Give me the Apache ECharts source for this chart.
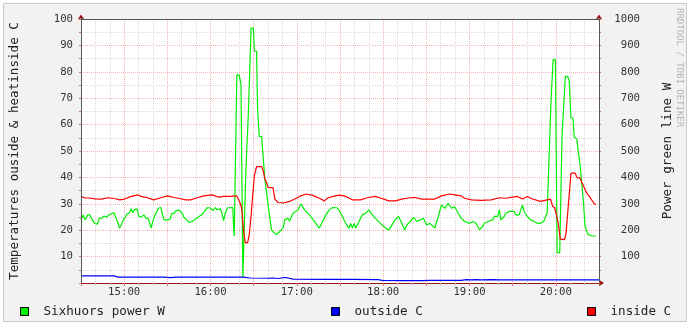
<!DOCTYPE html>
<html>
<head>
<meta charset="utf-8">
<script src="https://cdn.jsdelivr.net/npm/echarts@6/dist/echarts.min.js"></script>
<style>html,body{margin:0;padding:0;background:#fff}#c{width:690px;height:324px}</style>
</head>
<body>
<div id="c"></div>
<script>
// time values are minutes after 14:00
const powerMin = [30.0,31.6,32.8,34.6,36.2,37.8,39.6,41.5,42.6,44.2,46.0,47.7,49.3,50.6,52.9,54.1,55.3,56.8,58.0,59.1,60.8,62.1,63.7,64.9,66.0,67.2,69.0,70.1,71.8,73.6,75.2,76.8,78.7,80.5,82.1,83.7,85.5,86.6,87.8,90.1,91.9,93.1,94.7,95.9,98.1,99.3,100.4,101.6,103.4,105.0,107.3,109.6,111.9,113.8,115.3,116.5,118.1,120.0,121.7,123.4,124.5,126.8,127.9,129.1,130.3,131.9,133.7,135.5,136.0,136.5,137.6,138.3,139.9,141.2,142.5,143.6,144.6,146.3,148.2,149.8,150.5,152.0,152.7,153.9,155.5,157.8,158.9,160.1,161.3,162.4,165.8,168.1,170.4,171.6,173.8,175.0,177.3,180.7,183.0,185.3,188.8,192.2,195.7,197.9,200.2,202.6,204.8,208.3,210.5,214.0,216.3,217.4,218.6,219.8,220.9,223.2,225.5,227.8,230.1,232.4,234.6,238.1,241.5,243.9,246.1,248.4,250.7,253.0,254.9,256.5,258.8,261.1,263.3,265.6,268.0,270.2,272.5,275.9,278.3,280.5,282.8,285.2,287.4,289.7,292.0,294.3,296.6,300.0,302.3,304.6,306.9,309.2,310.3,312.7,316.1,317.2,319.6,320.7,321.8,324.1,325.3,327.6,331.0,332.2,334.5,336.8,337.9,340.2,342.5,344.8,347.1,349.4,351.6,354.0,355.1,356.7,358.1,359.7,360.9,362.7,364.3,365.4,366.6,368.2,369.3,370.5,371.9,372.8,374.6,375.7,376.9,378.1,379.2,380.3,382.2,384.9,387.9];
const powerW = [239,258,239,258,258,239,226,223,245,245,254,249,258,264,266,262,233,208,221,236,250,262,266,281,266,278,281,253,250,258,245,245,208,245,264,283,286,258,239,239,242,264,264,273,277,281,263,248,239,229,233,242,252,258,267,277,286,283,274,286,278,281,266,236,266,285,285,286,220,178,178,788,788,751,20,20,430,640,966,966,878,878,663,555,555,394,390,292,290,201,182,195,208,239,245,235,264,277,299,277,258,233,208,233,258,277,286,284,264,226,208,226,208,226,208,233,258,264,277,258,245,226,208,201,220,239,252,226,201,220,233,249,233,239,245,220,226,208,252,296,283,302,283,289,266,245,233,226,233,226,201,215,226,233,239,252,252,277,239,252,264,271,271,258,258,296,271,252,239,233,226,226,233,267,444,694,846,846,115,115,555,555,783,783,764,625,625,553,545,492,444,440,305,216,185,178,178];

const insideMin = [30.0,32.8,36.2,39.6,44.2,48.8,53.4,56.8,60.3,64.9,69.4,71.8,76.3,80.5,85.5,90.1,94.7,99.3,102.8,106.2,109.6,115.3,121.1,125.7,129.1,133.7,138.3,139.4,140.6,141.7,142.9,144.1,145.8,146.8,148.2,149.3,150.5,152.0,155.5,156.6,157.8,158.9,160.1,163.5,164.7,167.0,170.4,175.0,178.5,181.9,186.5,191.1,196.8,199.1,201.4,206.0,209.4,214.0,218.6,224.3,228.9,230.1,234.6,238.1,243.9,248.4,253.0,257.6,262.2,266.8,275.9,280.5,286.3,289.7,294.3,296.6,301.2,308.1,315.0,320.7,325.3,329.9,333.3,336.8,340.2,343.7,349.4,354.0,356.3,357.8,359.2,361.6,363.1,366.1,367.1,368.2,370.5,373.5,374.6,376.9,378.1,379.2,381.5,383.3,384.9,386.5,387.9];
const insideC = [32.8,32.2,32.2,31.9,31.8,32.3,32.0,31.5,31.8,32.8,33.4,32.8,32.3,31.5,32.3,33.0,32.4,31.9,31.5,31.5,32.1,33.0,33.4,32.5,32.8,32.8,33.0,33.0,30.2,28.3,20.4,15.3,15.3,17.8,25.4,33.0,40.6,44.1,44.1,42.5,39.4,38.1,36.2,36.0,31.8,30.5,30.3,30.9,31.8,32.8,33.7,33.2,31.8,31.1,32.2,32.9,33.3,32.8,31.5,31.5,32.3,33.0,32.8,32.2,31.1,31.1,31.8,32.2,32.4,31.8,31.8,33.0,33.7,33.4,33.0,32.1,31.5,31.3,31.5,32.3,32.1,32.5,32.8,31.8,32.8,31.8,30.9,31.5,31.8,29.0,28.6,22.9,16.6,16.4,18.8,19.0,41.6,41.6,40.0,39.7,38.1,37.5,34.0,32.8,31.5,30.2,29.6];

const outsideMin = [30.0,43.1,53.4,54.8,57.5,60.3,87.8,91.9,96.1,101.6,129.1,142.9,147.7,160.1,163.5,167.0,170.4,173.2,177.3,198.0,218.6,236.5,239.3,253.0,266.8,273.7,294.3,297.7,301.2,304.6,308.1,315.0,321.8,335.6,356.3,390.0];
const outsideC = [2.7,2.7,2.7,2.3,2.2,2.2,2.2,2.0,2.2,2.2,2.2,2.2,1.9,1.8,1.9,1.7,2.0,2.0,1.5,1.4,1.4,1.3,1.0,0.9,0.9,1.0,1.0,1.3,1.2,1.3,1.2,1.3,1.2,1.2,1.2,1.2];

const seriesNames = ['Sixhuors power W', 'outside C', 'inside C'];
const seriesColors = ['#00ee00', '#0000ff', '#ff0000'];
const hourBase = 14;

function pairs(xs, ys){ return xs.map((x,i)=>[x, ys[i]]); }
function hhmm(m){ const t = hourBase*60 + m; const h = Math.floor(t/60); const mm = Math.round(t - h*60);
  return String(h).padStart(2,'0') + ':' + String(mm).padStart(2,'0'); }

const FONT = 'DejaVu Sans Mono';
const chart = echarts.init(document.getElementById('c'), null, {renderer:'canvas'});
const gridRed = {color:'#f3b3b3', type:[1,1], width:1};
const gridGray = {color:'#d9d9d9', type:[1,1], width:1};
const arrowRed = '#9a1414';
const axisDark = '#555555';

function legend(i, left){
  return {show:true, left:left, top:305, padding:0, data:[seriesNames[i]], icon:'rect', itemWidth:8, itemHeight:8,
    selectedMode:false, itemStyle:{borderColor:'#000', borderWidth:1},
    textStyle:{fontFamily:FONT, fontSize:12.6, color:'#222', padding:[0,0,0,10]}};
}

chart.setOption({
  animation:false,
  backgroundColor:'#ffffff',
  graphic:[
    {type:'rect', z:-100, shape:{x:3.5, y:3.5, width:683, height:318}, style:{fill:'#f2f2f2', stroke:'#c9c9c9', lineWidth:1}},
    {type:'text', x:679, y:8, rotation:-Math.PI/2, style:{text:'RRDTOOL / TOBI OETIKER', font:'9px "DejaVu Sans Mono"', fill:'#b4b4b4', align:'left', verticalAlign:'middle'}}
  ],
  grid:{left:76, right:91, top:19, bottom:41, show:true, backgroundColor:'#ffffff', borderWidth:0},
  legend:[legend(0,20), legend(1,331), legend(2,587)],
  xAxis:[
    {type:'value', min:30, max:390, interval:30,
     axisLine:{show:true, onZero:false, symbol:['none','arrow'], symbolSize:[5,5], symbolOffset:[0,5], lineStyle:{color:arrowRed}},
     axisTick:{show:true, length:3, lineStyle:{color:'#e07070'}},
     minorTick:{show:true, splitNumber:3, length:2, lineStyle:{color:'#bbbbbb'}},
     axisLabel:{formatter:v => (v % 60 === 0 ? hhmm(v) : ''), margin:4, color:'#333', fontFamily:FONT, fontSize:10.7},
     splitLine:{show:true, lineStyle:gridRed},
     minorSplitLine:{show:true, lineStyle:gridGray}},
    {type:'value', min:30, max:390, interval:30, z:5,
     axisLine:{show:true, onZero:false, lineStyle:{color:axisDark}},
     axisTick:{show:false}, axisLabel:{show:false}, splitLine:{show:false}}
  ],
  yAxis:[
    {type:'value', position:'left', min:0, max:100, interval:10,
     name:'Temperatures ouside & heatinside C', nameLocation:'middle', nameGap:60, nameRotate:90,
     nameTextStyle:{fontFamily:FONT, fontSize:12.6, color:'#222'},
     axisLine:{show:true, symbol:['none','arrow'], symbolSize:[5,5], symbolOffset:[0,4.5], lineStyle:{color:arrowRed}},
     axisTick:{show:true, length:2, lineStyle:{color:'#e07070'}},
     minorTick:{show:true, splitNumber:2, length:2, lineStyle:{color:'#e07070'}},
     axisLabel:{formatter:v => (v === 0 ? '' : String(v)), margin:8, color:'#333', fontFamily:FONT, fontSize:10.7},
     splitLine:{show:true, lineStyle:gridRed},
     minorSplitLine:{show:true, lineStyle:gridGray}},
    {type:'value', position:'right', min:0, max:1000, interval:100,
     name:'Power green line W', nameLocation:'middle', nameGap:62, nameRotate:90,
     nameTextStyle:{fontFamily:FONT, fontSize:12.6, color:'#222'},
     axisLine:{show:true, symbol:['none','arrow'], symbolSize:[5,5], symbolOffset:[0,4.5], lineStyle:{color:arrowRed}},
     axisTick:{show:true, length:2, lineStyle:{color:'#e07070'}},
     minorTick:{show:true, splitNumber:2, length:2, lineStyle:{color:'#e07070'}},
     axisLabel:{formatter:v => (v === 0 ? '' : String(v)), margin:41, align:'right', color:'#333', fontFamily:FONT, fontSize:10.7},
     splitLine:{show:false}},
    {type:'value', position:'left', min:0, max:100, interval:10, z:5,
     axisLine:{show:true, lineStyle:{color:axisDark}}, axisTick:{show:false}, axisLabel:{show:false}, splitLine:{show:false}},
    {type:'value', position:'right', min:0, max:1000, interval:100, z:5,
     axisLine:{show:true, lineStyle:{color:axisDark}}, axisTick:{show:false}, axisLabel:{show:false}, splitLine:{show:false}}
  ],
  series:[
    {name:seriesNames[0], type:'line', xAxisIndex:0, yAxisIndex:1, data:pairs(powerMin, powerW), showSymbol:false, symbol:'none',
     color:seriesColors[0], lineStyle:{color:seriesColors[0], width:1.2}},
    {name:seriesNames[1], type:'line', xAxisIndex:0, yAxisIndex:0, data:pairs(outsideMin, outsideC), showSymbol:false, symbol:'none',
     color:seriesColors[1], lineStyle:{color:seriesColors[1], width:1.2}},
    {name:seriesNames[2], type:'line', xAxisIndex:0, yAxisIndex:0, data:pairs(insideMin, insideC), showSymbol:false, symbol:'none',
     color:seriesColors[2], lineStyle:{color:seriesColors[2], width:1.2}}
  ]
});
</script>
</body>
</html>
